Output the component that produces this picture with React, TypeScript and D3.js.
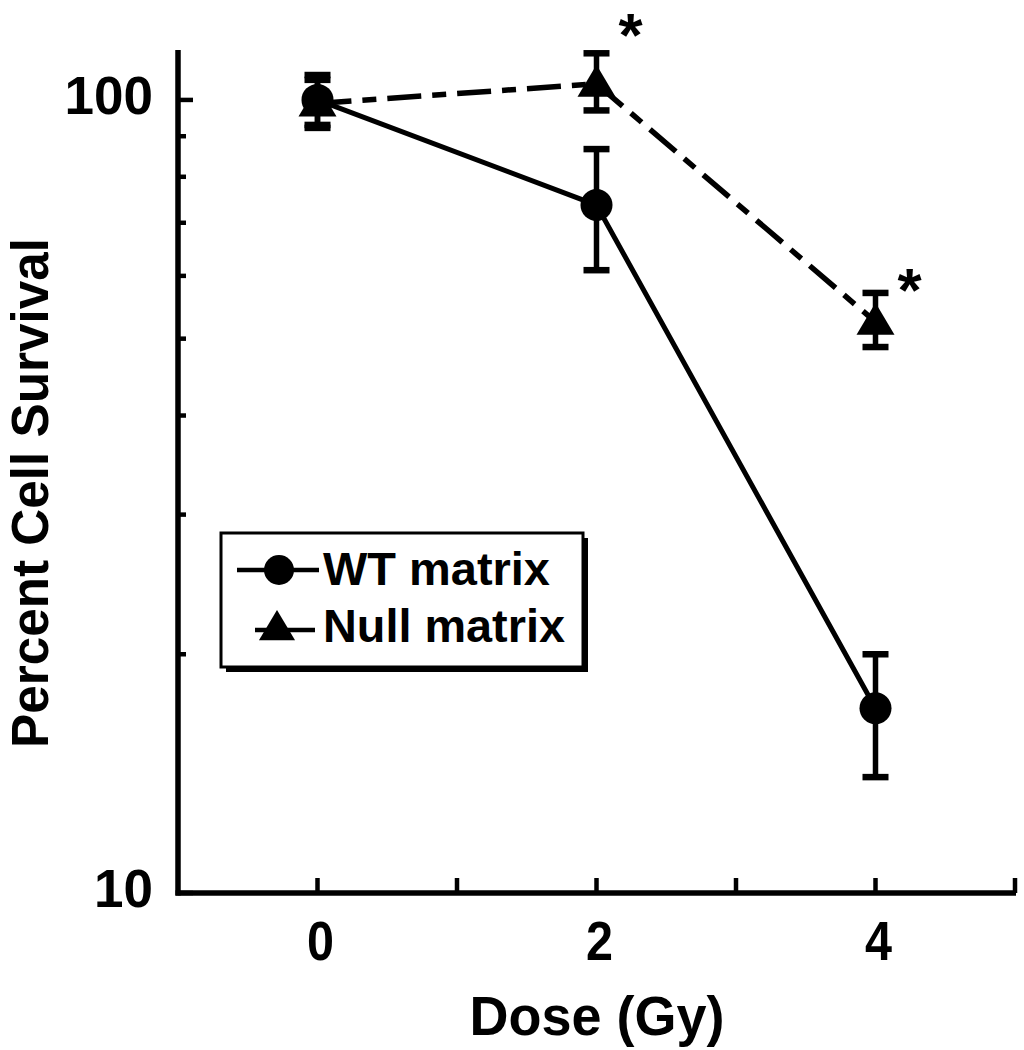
import React, { useEffect, useRef } from 'react';
import * as d3 from 'd3';

// dose (Gy) and percent survival
const doses = [0, 2, 4];
const wtMean = [100, 73.7, 17.1];
const wtLow = [92.2, 61.0, 14.0];
const wtHigh = [107.5, 86.7, 20.0];
const nullMean = [99.0, 104.8, 52.5];
const nullLow = [93.0, 97.0, 48.8];
const nullHigh = [106.0, 114.5, 57.1];
const xTicks = [0, 1, 2, 3, 4, 5];
const xTickLabels = ['0', '2', '4'];
const yMajor = [10, 100];
const yMinor = [20, 30, 40, 50, 60, 70, 80, 90];
const significant = [2, 4];

const FONT = '"Liberation Sans", Arial, Helvetica, sans-serif';

const App: React.FC = () => {
  const svgRef = useRef<SVGSVGElement>(null);

  useEffect(() => {
    if (!svgRef.current) return;
    const svg = d3.select(svgRef.current);
    svg.selectAll('*').remove();

    const x = d3.scaleLinear().domain([-1, 5]).range([178, 1015]);
    const y = d3.scaleLog().domain([10, 115.6]).range([893, 50]);

    const g = svg.append('g');

    // --- axes ---
    g.append('line')
      .attr('x1', x(-1)).attr('x2', x(-1))
      .attr('y1', y(10) + 2.5).attr('y2', y(115.6))
      .attr('stroke', '#000').attr('stroke-width', 5.5);
    g.append('line')
      .attr('x1', x(-1) - 2.5).attr('x2', x(5) + 1)
      .attr('y1', y(10)).attr('y2', y(10))
      .attr('stroke', '#000').attr('stroke-width', 5.5);

    xTicks.forEach(t => {
      g.append('line')
        .attr('x1', x(t)).attr('x2', x(t))
        .attr('y1', y(10)).attr('y2', y(10) - 15)
        .attr('stroke', '#000').attr('stroke-width', 4.5);
    });
    xTickLabels.forEach(l => {
      g.append('text')
        .attr('x', x(+l) + 3).attr('y', 960)
        .attr('text-anchor', 'middle')
        .attr('font-family', FONT).attr('font-weight', 'bold').attr('font-size', 56)
        .attr('textLength', 27).attr('lengthAdjust', 'spacingAndGlyphs')
        .text(l);
    });

    yMajor.forEach(v => {
      g.append('line')
        .attr('x1', x(-1)).attr('x2', x(-1) + 15)
        .attr('y1', y(v)).attr('y2', y(v))
        .attr('stroke', '#000').attr('stroke-width', 4.5);
      g.append('text')
        .attr('x', 153).attr('y', y(v) + 14)
        .attr('text-anchor', 'end')
        .attr('font-family', FONT).attr('font-weight', 'bold').attr('font-size', 53)
        .text(String(v));
    });
    yMinor.forEach(v => {
      g.append('line')
        .attr('x1', x(-1)).attr('x2', x(-1) + 8)
        .attr('y1', y(v)).attr('y2', y(v))
        .attr('stroke', '#000').attr('stroke-width', 4.5);
    });

    g.append('text')
      .attr('transform', `translate(48,${(238 + 748) / 2}) rotate(-90)`)
      .attr('text-anchor', 'middle')
      .attr('font-family', FONT).attr('font-weight', 'bold').attr('font-size', 51)
      .attr('textLength', 510).attr('lengthAdjust', 'spacingAndGlyphs')
      .text('Percent Cell Survival');

    g.append('text')
      .attr('x', 597).attr('y', 1035)
      .attr('text-anchor', 'middle')
      .attr('font-family', FONT).attr('font-weight', 'bold').attr('font-size', 55)
      .attr('textLength', 255).attr('lengthAdjust', 'spacingAndGlyphs')
      .text('Dose (Gy)');

    // --- series ---
    const idx = doses.map((_, i) => i);
    const lineOf = (vals: number[]) =>
      d3.line<number>().x(i => x(doses[i])).y(i => y(vals[i]))(idx);

    g.append('path')
      .attr('d', lineOf(nullMean))
      .attr('fill', 'none').attr('stroke', '#000').attr('stroke-width', 5.5)
      .attr('stroke-dasharray', '34,11,14,11');
    g.append('path')
      .attr('d', lineOf(wtMean))
      .attr('fill', 'none').attr('stroke', '#000').attr('stroke-width', 5);

    const errorBars = (lo: number[], hi: number[]) => {
      idx.forEach(i => {
        const cx = x(doses[i]);
        g.append('line')
          .attr('x1', cx).attr('x2', cx)
          .attr('y1', y(lo[i])).attr('y2', y(hi[i]))
          .attr('stroke', '#000').attr('stroke-width', 5.5);
        [lo[i], hi[i]].forEach(v => {
          g.append('line')
            .attr('x1', cx - 13).attr('x2', cx + 13)
            .attr('y1', y(v)).attr('y2', y(v))
            .attr('stroke', '#000').attr('stroke-width', 6.5);
        });
      });
    };
    errorBars(nullLow, nullHigh);
    errorBars(wtLow, wtHigh);

    const triangle = (cx: number, cy: number, s = 1) =>
      `M${cx},${cy - 19 * s}L${cx + 19 * s},${cy + 13 * s}L${cx - 19 * s},${cy + 13 * s}Z`;

    idx.forEach(i => {
      g.append('path')
        .attr('d', triangle(x(doses[i]), y(nullMean[i])))
        .attr('fill', '#000');
    });
    idx.forEach(i => {
      g.append('circle')
        .attr('cx', x(doses[i])).attr('cy', y(wtMean[i]))
        .attr('r', 16).attr('fill', '#000');
    });

    // significance asterisks beside the Null matrix points
    const starOffset: Record<number, [number, number]> = { 2: [34, -28], 4: [34, -11] };
    significant.forEach(d => {
      const i = doses.indexOf(d);
      const [dx, dy] = starOffset[d];
      g.append('text')
        .attr('x', x(d) + dx).attr('y', y(nullMean[i]) + dy)
        .attr('text-anchor', 'middle')
        .attr('font-family', FONT).attr('font-weight', 'bold').attr('font-size', 62)
        .text('*');
    });

    // --- legend ---
    const lg = g.append('g').attr('transform', 'translate(221,533)');
    lg.append('rect')
      .attr('x', 5).attr('y', 5).attr('width', 362).attr('height', 134)
      .attr('fill', '#000');
    lg.append('rect')
      .attr('x', 0).attr('y', 0).attr('width', 362).attr('height', 134)
      .attr('fill', '#fff').attr('stroke', '#000').attr('stroke-width', 3);

    lg.append('line')
      .attr('x1', 16).attr('x2', 98).attr('y1', 37).attr('y2', 37)
      .attr('stroke', '#000').attr('stroke-width', 4.5);
    lg.append('circle').attr('cx', 58).attr('cy', 37).attr('r', 15).attr('fill', '#000');
    lg.append('text')
      .attr('x', 102).attr('y', 52)
      .attr('font-family', FONT).attr('font-weight', 'bold').attr('font-size', 46)
      .attr('textLength', 227).attr('lengthAdjust', 'spacingAndGlyphs')
      .text('WT matrix');

    lg.append('line')
      .attr('x1', 34).attr('x2', 94).attr('y1', 97).attr('y2', 97)
      .attr('stroke', '#000').attr('stroke-width', 4.5);
    lg.append('path').attr('d', triangle(56, 95, 0.95)).attr('fill', '#000');
    lg.append('text')
      .attr('x', 102).attr('y', 109)
      .attr('font-family', FONT).attr('font-weight', 'bold').attr('font-size', 46)
      .attr('textLength', 242).attr('lengthAdjust', 'spacingAndGlyphs')
      .text('Null matrix');
  }, []);

  return (
    <svg
      ref={svgRef}
      width={1024}
      height={1050}
      viewBox="0 0 1024 1050"
      style={{ position: 'absolute', left: 0, top: 0, background: '#fff' }}
    />
  );
};

export default App;
